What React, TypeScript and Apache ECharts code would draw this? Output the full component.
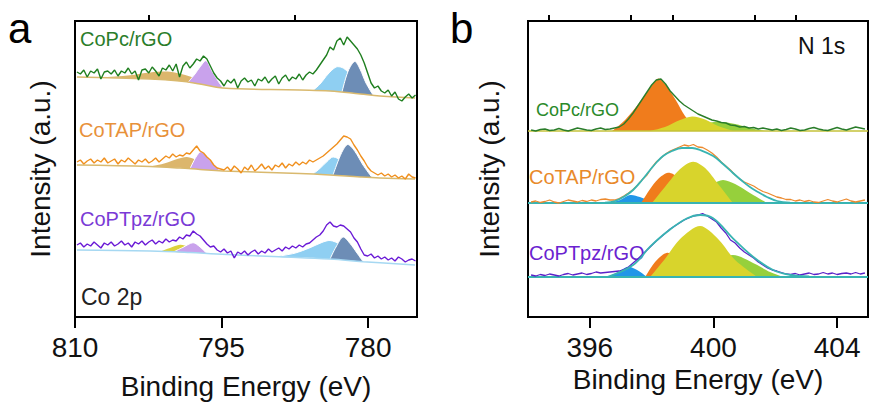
import React, { useEffect, useRef } from "react";
import * as echarts from "echarts";

const FONT = "'Liberation Sans', Arial, Helvetica, sans-serif";
const AXIS_SIZE = 28;

// ---------- Co 2p (panel a) ----------
// spectra sampled from 809.8 eV downward in 0.35 eV steps (stacked with offsets)
const CO2P_START = 809.8;
const CO2P_STEP = -0.35;
const co2pMajorTicks = [810, 795, 780];
const co2pMinorTicks = [802.5, 787.5];

const co2pCoPc = [
  245, 243, 247, 240, 246, 244, 248, 238, 245, 246,
  243, 247, 241, 246, 244, 249, 243, 246, 237, 247,
  248, 244, 250, 246, 241, 249, 247, 252, 246, 253,
  240, 251, 255, 249, 253, 258, 256, 261, 258, 251,
  244, 239, 236, 231, 237, 234, 238, 229, 236, 239,
  235, 237, 231, 238, 236, 240, 234, 238, 241, 233,
  239, 242, 236, 240, 238, 243, 237, 242, 245, 243,
  247, 252, 257, 262, 270, 267, 276, 279, 272, 280,
  276, 272, 268, 262, 254, 244, 234, 229, 231, 226,
  224, 227, 221, 225, 218, 216, 220, 223, 219, 222,
];
const co2pCoTAP = [
  155, 157, 153, 156, 158, 154, 157, 155, 159, 154,
  156, 158, 153, 157, 155, 159, 156, 153, 157, 155,
  158, 154, 156, 159, 155, 158, 161, 159, 163, 160,
  162, 161, 164, 163, 167, 171, 166, 164, 160, 157,
  152, 149, 148, 147, 150, 146, 151, 148, 144, 150,
  147, 152, 146, 149, 153, 148, 151, 147, 152, 150,
  154, 149, 153, 151, 155, 152, 155, 153, 157, 155,
  157, 159, 161, 164, 167, 170, 173, 177, 181, 180,
  178, 172, 167, 161, 156, 150, 146, 144, 142, 144,
  141, 143, 140, 142, 139, 141, 138, 143, 140, 139,
];
const co2pCoPTpz = [
  72, 74, 70, 73, 71, 75, 72, 69, 74, 72,
  75, 71, 73, 76, 72, 74, 70, 75, 73, 76,
  72, 75, 77, 73, 76, 74, 78, 75, 77, 76,
  80, 78, 82, 81, 86, 83, 81, 77, 73, 70,
  71, 67, 65, 68, 64, 66, 59, 65, 63, 66,
  62, 65, 67, 63, 66, 64, 68, 65, 67, 69,
  66, 70, 68, 71, 69, 72, 70, 73, 74, 77,
  80, 82, 86, 92, 95, 91, 90, 92, 91, 88,
  85, 79, 75, 68, 62, 61, 63, 59, 61, 58,
  60, 57, 59, 56, 60, 58, 55, 57, 58, 56,
];

// Shirley-type backgrounds [energy, intensity]
const co2pBgCoPc = [
  [809.8, 240], [802.3, 238], [799.3, 236], [797.2, 233], [794.9, 229],
  [787.0, 227], [783.9, 226], [780.8, 223], [778.8, 221], [775.2, 219],
];
const co2pBgCoTAP = [
  [809.8, 152], [802.3, 150.5], [799.3, 149], [797.2, 147.5], [794.9, 146],
  [787.0, 143.5], [783.9, 142], [780.8, 140], [778.8, 139], [775.2, 138],
];
const co2pBgCoPTpz = [
  [809.8, 67], [802.3, 66], [798.2, 64.5], [795.5, 63], [789.1, 60.3],
  [783.9, 58], [780.5, 55.3], [775.2, 52],
];

// fitted components [energy, lower, upper]
const co2pCoPcSat = [
  [807.44, 239.4, 239.4], [804.37, 238.7, 241.7], [802.32, 238, 244.5], [800.28, 236.7, 245.2],
  [798.23, 234.5, 240.5], [796.69, 232, 234.5], [794.85, 229, 229],
];
const co2pCoPcP12 = [
  [798.43, 234.7, 234.7], [797.72, 233.7, 243], [797.21, 233, 250], [796.59, 232, 256.3],
  [795.98, 231, 246], [795.36, 230, 236], [794.85, 229, 229],
];
const co2pCoPcP32a = [
  [785.64, 226.6, 226.6], [784.92, 226.4, 233], [784.10, 226.1, 243], [783.28, 225.7, 250],
  [782.67, 225.2, 249.5], [782.06, 224.5, 245], [781.04, 223.3, 234], [780.22, 222.6, 227],
  [779.5, 222, 222],
];
const co2pCoPcP32b = [
  [782.67, 225.2, 225.2], [782.26, 224.9, 240], [781.85, 224.4, 250], [781.34, 223.8, 255.5],
  [780.83, 223, 248], [780.22, 222.6, 234], [779.5, 222, 222],
];

const co2pCoTAPSat = [
  [802.32, 150.5, 150.5], [800.79, 149.8, 153.8], [799.46, 149.2, 158.2], [798.54, 148.6, 160.1],
  [797.51, 147.8, 156.8], [796.49, 147, 151], [795.47, 146.3, 146.3],
];
const co2pCoTAPP12 = [
  [798.23, 148.3, 148.3], [797.62, 147.9, 159.9], [797.10, 147.5, 165.5], [796.49, 147, 160],
  [795.77, 146.5, 152.5], [795.16, 146.1, 146.1],
];
const co2pCoTAPP32a = [
  [785.64, 143, 143], [784.92, 142.7, 148.7], [784.21, 142.4, 155.4], [783.59, 142.1, 160.1],
  [782.57, 141.4, 155.4], [781.34, 140.4, 146.4], [779.81, 139.5, 139.5],
];
const co2pCoTAPP32b = [
  [783.59, 142.1, 142.1], [783.08, 141.8, 155.8], [782.57, 141.4, 167], [782.06, 141, 172.5],
  [781.34, 140.4, 165.4], [780.52, 139.9, 151.9], [779.60, 139.4, 139.4],
];

const co2pCoPTpzSat = [
  [801.30, 65.2, 65.2], [800.28, 64.9, 68.9], [799.25, 64.7, 72.2], [798.23, 64.5, 69.5], [797.21, 64.1, 64.1],
];
const co2pCoPTpzP12 = [
  [799.97, 64.9, 64.9], [798.95, 64.6, 69.6], [797.92, 64.3, 74.3], [797.21, 64.1, 70.1], [796.49, 63.4, 63.4],
];
const co2pCoPTpzP32a = [
  [789.32, 60.6, 60.6], [787.48, 59.9, 63.9], [785.95, 59.3, 69.3], [784.72, 58.6, 74.6],
  [783.90, 58, 76.5], [782.88, 57.3, 73], [781.85, 56.5, 67], [780.52, 55.3, 55.3],
];
const co2pCoPTpzP32b = [
  [783.90, 58, 58], [783.29, 57.5, 70], [782.57, 57, 80], [781.85, 56.5, 73.5],
  [781.14, 56, 64], [780.52, 55.3, 55.3],
];

// ---------- N 1s (panel b) ----------
const N1S_START = 394.1;
const N1S_STEP = 0.15;
const n1sMajorTicks = [396, 400, 404];
const n1sMinorTicks = [394.67, 397.33, 398.67, 401.33, 402.67];

const n1sCoPc = [
  187, 186, 187.5, 188, 186.5, 187, 188.5, 187, 186, 187.5,
  189, 188, 187, 186.5, 188, 189, 187.5, 188, 189, 190,
  193, 198, 204, 211, 218, 225, 232, 237, 238, 233,
  226, 221, 216, 212, 209, 206, 203, 201, 199, 197,
  196, 194.5, 194, 192, 191.5, 190, 190.5, 189, 189.5, 188,
  189, 188, 187, 188, 186.5, 187.5, 189, 188, 186.5, 187,
  188.5, 189.5, 188, 187, 186.5, 188, 189.5, 188, 187, 188.5,
  190, 189, 188,
];
const n1sCoTAP = [
  115, 116, 114.5, 115.5, 117, 115, 114, 115.5, 117, 116,
  115, 116.5, 115.5, 117, 116, 117.5, 118, 117, 117, 118.5,
  121, 124, 127.5, 132, 137.5, 142, 149, 155, 159, 163,
  166, 168, 170, 172, 171, 172.5, 170, 169.5, 167, 164,
  160, 155, 151, 147, 142, 138, 135, 133, 131, 128,
  125.5, 124, 122, 120, 119, 117.5, 117.5, 116, 117, 115.5,
  116.5, 115, 114.5, 116, 117.5, 116, 115, 116.5, 118, 116,
  115, 116, 117,
];
const n1sCoPTpz = [
  42, 41, 42.5, 41.5, 43, 42, 41, 42.5, 43.5, 42,
  43, 44, 42.5, 43.5, 45, 44, 44.5, 45, 45.5, 46,
  47.5, 50, 54, 58, 62.5, 67, 71.5, 76, 80, 84,
  88, 91, 94, 97, 99, 101, 102, 103.5, 101, 98,
  95, 89, 84, 77, 74, 69, 65, 62, 59, 55,
  52, 49, 47, 46, 44.5, 43, 42.5, 43.5, 42, 43,
  44, 42.5, 43, 44.5, 43, 44, 42.5, 43.5, 44, 43,
  44.5, 43, 44,
];

// linear baselines of the three N 1s fits
const n1sBaseCoPc = 186;
const n1sBaseCoTAP = 114;
const n1sBaseCoPTpz = 40;

// fitted components [energy, upper]
const n1sCoPcPyr = [
  [396.72, 186], [397.14, 197], [397.62, 215], [397.95, 229], [398.21, 238.5],
  [398.43, 233], [398.76, 218], [399.08, 201], [399.40, 191], [399.73, 186],
];
const n1sCoPcGra = [
  [398.60, 186], [399.24, 190], [400.12, 195.3], [400.70, 193], [401.18, 189], [401.67, 186],
];
const n1sCoPcMid = [
  [397.95, 186], [398.43, 190], [398.92, 197], [399.31, 200.5], [399.73, 197.5], [400.15, 191], [400.63, 186],
];

const n1sCoTAPLow = [[396.65, 114], [396.98, 117], [397.30, 122], [397.62, 120], [398.05, 114]];
const n1sCoTAPPyr = [
  [397.66, 114], [397.95, 128], [398.21, 138], [398.53, 144.3], [398.85, 140],
  [399.18, 128], [399.57, 116], [399.83, 114],
];
const n1sCoTAPGra = [
  [398.92, 114], [399.57, 126], [399.96, 133], [400.31, 137], [400.70, 133], [401.18, 124], [401.73, 114],
];
const n1sCoTAPMid = [
  [398.01, 114], [398.43, 130], [398.92, 148], [399.34, 155.3], [399.73, 149], [400.15, 133], [400.63, 114],
];
const n1sCoTAPEnv = [
  [396.49, 114.3], [396.82, 116], [397.14, 121], [397.40, 127], [397.69, 137], [397.95, 147],
  [398.17, 155], [398.37, 161], [398.66, 166], [398.98, 169], [399.31, 169], [399.57, 167],
  [399.99, 161], [400.31, 153], [400.63, 144], [400.93, 136], [401.18, 130], [401.44, 125],
  [401.73, 120], [402.06, 116], [402.48, 114.3],
];

const n1sCoPTpzLow = [[396.59, 40], [396.91, 45], [397.24, 50.3], [397.53, 47], [397.85, 40]];
const n1sCoPTpzPyr = [[397.79, 40], [398.11, 55], [398.50, 64.3], [398.82, 58], [399.24, 45], [399.57, 40]];
const n1sCoPTpzGra = [[399.24, 40], [399.89, 53], [400.63, 62], [401.35, 53], [401.83, 45], [402.25, 40]];
const n1sCoPTpzMid = [
  [397.95, 40], [398.43, 58], [398.92, 78], [399.57, 91], [400.15, 78], [400.70, 57], [401.41, 40],
];
const n1sCoPTpzEnv = [
  [396.56, 40], [397.40, 52], [397.95, 70.3], [398.50, 85.3], [399.15, 98.7], [399.57, 102],
  [399.99, 98.7], [400.63, 78.7], [401.28, 60.3], [401.93, 47], [402.48, 42], [403.1, 40.5],
];

// ---------- colours ----------
const C = {
  green: "#1f7f1f",
  orange: "#f0901e",
  purple: "#6a1ad6",
  tan: "#dcb66c",
  lilac: "#c9a2ec",
  sky: "#8fcff2",
  slate: "#6d8db6",
  straw: "#dcd23c",
  bgTan: "#d9b96e",
  bgSky: "#a6d8f2",
  nBlue: "#2196e8",
  nOrange: "#f07c1c",
  nYellow: "#d8d42c",
  nGreen: "#96d03c",
  teal: "#38b4b2",
  olive: "#c4c23a",
};

const spectrum = (start: number, step: number, values: number[]) =>
  values.map((v, i) => [+(start + step * i).toFixed(3), v]);

// filled peak component between its lower and upper curves
function band(axis: number, pts: number[][], color: string, edge?: string) {
  return {
    type: "custom",
    coordinateSystem: "cartesian2d",
    xAxisIndex: axis,
    yAxisIndex: axis === 0 ? 0 : 1,
    data: pts.map((p) => [p[0], p[1], p[2]]),
    encode: { x: 0, y: [1, 2] },
    silent: true,
    clip: true,
    renderItem: (params: any, api: any) => {
      if (params.dataIndex !== 0) return null;
      const upper = pts.map((p) => api.coord([p[0], p[2]]));
      const lower = pts.map((p) => api.coord([p[0], p[1]])).reverse();
      const children: any[] = [
        {
          type: "polygon",
          shape: { points: [...upper, ...lower], smooth: 0.3 },
          style: { fill: color, stroke: null },
        },
      ];
      if (edge) {
        children.push({
          type: "polyline",
          shape: { points: upper, smooth: 0.3 },
          style: { stroke: edge, lineWidth: 1, fill: null },
        });
      }
      return { type: "group", children };
    },
  };
}
const flatBand = (base: number, pts: number[][], color: string) =>
  band(2, pts.map((p) => [p[0], base, p[1]]), color);

function curve(axis: number, data: number[][], color: string, width: number, smooth: number | boolean) {
  return {
    type: "line",
    xAxisIndex: axis,
    yAxisIndex: axis === 0 ? 0 : 1,
    data,
    smooth,
    symbol: "none",
    silent: true,
    lineStyle: { color, width },
  };
}

const text = (t: string, x: number, y: number, size: number, fill: string) => ({
  type: "text",
  x,
  y,
  silent: true,
  style: {
    text: t,
    fill,
    fontSize: size,
    fontFamily: FONT,
    textAlign: "left",
    textVerticalAlign: "middle",
    align: "left",
    verticalAlign: "middle",
  },
});

function xAxes(grid: number, min: number, max: number, inverse: boolean, major: number[], minor: number[], nameGap: number) {
  return [
    {
      type: "value",
      gridIndex: grid,
      min,
      max,
      inverse,
      axisLine: { show: true, lineStyle: { color: "#000", width: 2 } },
      axisTick: { show: true, customValues: major, length: 11, lineStyle: { color: "#000", width: 2 } },
      axisLabel: { customValues: major, fontSize: AXIS_SIZE, color: "#111", fontFamily: FONT, margin: 16 },
      splitLine: { show: false },
      name: "Binding Energy (eV)",
      nameLocation: "middle",
      nameGap,
      nameTextStyle: { fontSize: AXIS_SIZE, color: "#111", fontFamily: FONT },
    },
    {
      type: "value",
      gridIndex: grid,
      min,
      max,
      inverse,
      axisLine: { show: false },
      axisTick: { show: true, customValues: minor, length: 6, lineStyle: { color: "#000", width: 2 } },
      axisLabel: { show: false },
      splitLine: { show: false },
    },
  ];
}

function yAxis(grid: number, nameGap: number) {
  return {
    type: "value",
    gridIndex: grid,
    min: 0,
    max: 296,
    axisLine: { show: false },
    axisTick: { show: false },
    axisLabel: { show: false },
    splitLine: { show: false },
    name: "Intensity (a.u.)",
    nameLocation: "middle",
    nameGap,
    nameRotate: 90,
    nameTextStyle: { fontSize: AXIS_SIZE, color: "#111", fontFamily: FONT },
  };
}

export default function App() {
  const ref = useRef<HTMLDivElement>(null);

  useEffect(() => {
    if (!ref.current) return;
    const chart = echarts.init(ref.current, undefined, { renderer: "svg" });

    const series: any[] = [
      // Co 2p components
      band(0, co2pCoPcSat, C.tan),
      band(0, co2pCoPcP12, C.lilac, "#ffffff"),
      band(0, co2pCoPcP32a, C.sky, "#ffffff"),
      band(0, co2pCoPcP32b, C.slate, "#ffffff"),
      band(0, co2pCoTAPSat, C.tan),
      band(0, co2pCoTAPP12, C.lilac, "#ffffff"),
      band(0, co2pCoTAPP32a, C.sky, "#ffffff"),
      band(0, co2pCoTAPP32b, C.slate, "#ffffff"),
      band(0, co2pCoPTpzSat, C.straw),
      band(0, co2pCoPTpzP12, C.lilac, "#ffffff"),
      band(0, co2pCoPTpzP32a, C.sky, "#ffffff"),
      band(0, co2pCoPTpzP32b, C.slate, "#ffffff"),
      curve(0, co2pBgCoPc, C.bgTan, 1.5, 0.4),
      curve(0, co2pBgCoTAP, C.bgTan, 1.5, 0.4),
      curve(0, co2pBgCoPTpz, C.bgSky, 1.5, 0.4),
      curve(0, spectrum(CO2P_START, CO2P_STEP, co2pCoPc), C.green, 1.4, false),
      curve(0, spectrum(CO2P_START, CO2P_STEP, co2pCoTAP), C.orange, 1.4, false),
      curve(0, spectrum(CO2P_START, CO2P_STEP, co2pCoPTpz), C.purple, 1.4, false),

      // N 1s components
      flatBand(n1sBaseCoPc, n1sCoPcPyr, C.nOrange),
      flatBand(n1sBaseCoPc, n1sCoPcGra, C.nGreen),
      flatBand(n1sBaseCoPc, n1sCoPcMid, C.nYellow),
      flatBand(n1sBaseCoTAP, n1sCoTAPLow, C.nBlue),
      flatBand(n1sBaseCoTAP, n1sCoTAPPyr, C.nOrange),
      flatBand(n1sBaseCoTAP, n1sCoTAPGra, C.nGreen),
      flatBand(n1sBaseCoTAP, n1sCoTAPMid, C.nYellow),
      flatBand(n1sBaseCoPTpz, n1sCoPTpzLow, C.nBlue),
      flatBand(n1sBaseCoPTpz, n1sCoPTpzPyr, C.nOrange),
      flatBand(n1sBaseCoPTpz, n1sCoPTpzGra, C.nGreen),
      flatBand(n1sBaseCoPTpz, n1sCoPTpzMid, C.nYellow),
      curve(2, [[394, n1sBaseCoPc], [405, n1sBaseCoPc]], C.olive, 1.5, false),
      curve(2, [[394, n1sBaseCoTAP], [405, n1sBaseCoTAP]], C.teal, 1.8, false),
      curve(2, [[394, n1sBaseCoPTpz], [405, n1sBaseCoPTpz]], C.teal, 1.8, false),
      curve(2, spectrum(N1S_START, N1S_STEP, n1sCoPc), "#2a7d2a", 1.4, false),
      curve(2, spectrum(N1S_START, N1S_STEP, n1sCoTAP), "#ec8a2e", 1.3, false),
      curve(2, spectrum(N1S_START, N1S_STEP, n1sCoPTpz), "#5a22c8", 1.3, false),
      curve(2, n1sCoTAPEnv, C.teal, 1.8, 0.4),
      curve(2, n1sCoPTpzEnv, C.teal, 1.8, 0.4),
    ];

    chart.setOption({
      animation: false,
      backgroundColor: "#ffffff",
      textStyle: { fontFamily: FONT },
      grid: [
        { left: 75, top: 21, width: 342, height: 296, show: true, borderColor: "#000", borderWidth: 2, backgroundColor: "transparent" },
        { left: 528, top: 21, width: 340, height: 296, show: true, borderColor: "#000", borderWidth: 2, backgroundColor: "transparent" },
      ],
      xAxis: [
        ...xAxes(0, 775, 810, true, co2pMajorTicks, co2pMinorTicks, 55),
        ...xAxes(1, 394, 405, false, n1sMajorTicks, n1sMinorTicks, 48),
      ],
      yAxis: [yAxis(0, 21), yAxis(1, 25)],
      series,
      graphic: [
        text("a", 8, 28.5, 42, "#000"),
        text("b", 450, 28.5, 42, "#000"),
        text("CoPc/rGO", 80, 39, 20, "#2a7d2a"),
        text("CoTAP/rGO", 79, 129.5, 20, "#e8913a"),
        text("CoPTpz/rGO", 80, 219, 20, "#7a3ad6"),
        text("Co 2p", 81, 297, 23, "#222"),
        text("N 1s", 798, 46, 23, "#111"),
        text("CoPc/rGO", 536, 110, 18, "#2a8a2a"),
        text("CoTAP/rGO", 529, 176.5, 20, "#e8892a"),
        text("CoPTpz/rGO", 529, 253, 20, "#6a22d0"),
      ],
    });

    return () => chart.dispose();
  }, []);

  return (
    <div
      ref={ref}
      style={{ position: "fixed", left: 0, top: 0, width: 869, height: 414, background: "#fff" }}
    />
  );
}
